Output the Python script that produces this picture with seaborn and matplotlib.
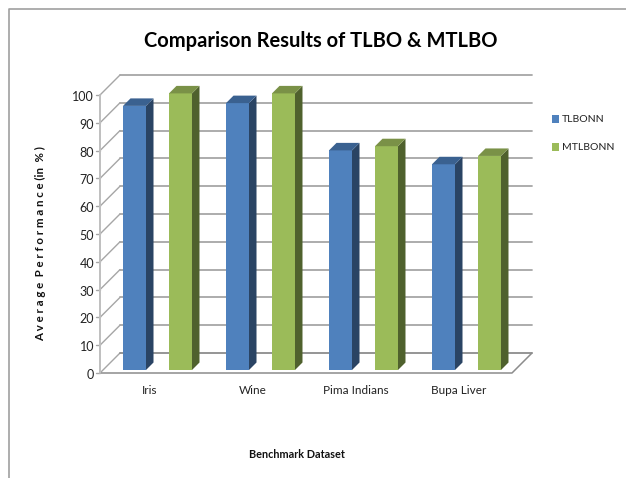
import matplotlib
matplotlib.use("Agg")
import matplotlib.pyplot as plt
from matplotlib.patches import Polygon, Rectangle
from matplotlib.transforms import Affine2D
import pandas as pd
import seaborn as sns

datasets = ["Iris", "Wine", "Pima Indians", "Bupa Liver"]
tlbonn = [95, 96, 79, 74]
mtlbonn = [99.5, 99.5, 80.5, 77]
y_ticks = list(range(0, 101, 10))

W, H = 626, 478
FRONT = (100, 512)
Y0, Y100 = 373, 95
WALL = 20          # wall depth, px
BAR_DEPTH = 7.5    # bar depth, px
BAR_SHIFT = (6, 3) # bar front face sits slightly inside the floor, px

sns.set_theme(style="white")
plt.rcParams["font.family"] = ["Lato", "DejaVu Sans"]

df = pd.DataFrame({
    "dataset": datasets * 2,
    "value": tlbonn + mtlbonn,
    "series": ["TLBONN"] * 4 + ["MTLBONN"] * 4,
})

fig = plt.figure(figsize=(W / 100, H / 100), dpi=100, facecolor="white")
ax = fig.add_axes([FRONT[0] / W, 1 - Y0 / H, (FRONT[1] - FRONT[0]) / W, (Y0 - Y100) / H])

colors = {"TLBONN": "#4F81BD", "MTLBONN": "#9BBB59"}
sides = {"TLBONN": "#2A4464", "MTLBONN": "#4F612D"}
tops = {"TLBONN": "#3A6190", "MTLBONN": "#7A9147"}

sns.barplot(data=df, x="dataset", y="value", hue="series", order=datasets,
            hue_order=["TLBONN", "MTLBONN"], palette=colors, width=0.893, gap=0.5,
            saturation=1, legend=False, ax=ax, zorder=4)
ax.set_xlim(-0.5, 3.5)
ax.set_ylim(0, 100)
for s in ax.spines.values():
    s.set_visible(False)

# Pixel-space transform, with y measured downwards from the top of the figure
px = Affine2D().scale(1, -1).translate(0, H)
def ypx(v):
    return Y0 - (Y0 - Y100) * v / 100

def fig_text(x, y, s, **kw):
    return fig.text(x / W, 1 - y / H, s, **kw)

def line(xs, ys, **kw):
    fig.add_artist(plt.Line2D(xs, ys, transform=px, **kw))

GRID = "#A6A6A6"
AXIS = "#8C8C8C"
lx, rx = FRONT
for v in y_ticks:
    y = ypx(v)
    if v > 0:
        line([lx + WALL, rx + WALL], [y - WALL, y - WALL], color=GRID, lw=1.3, zorder=1)
    line([lx, lx + WALL], [y, y - WALL], color=GRID, lw=1.0, zorder=1)
    line([lx - 4, lx], [y, y], color=GRID, lw=1.0, zorder=1)
    fig_text(lx - 6, y + 2, str(v), ha="right", va="center", fontsize=9, color="#222222")

# Floor and vertical axis
line([lx, rx, rx + WALL], [Y0, Y0, Y0 - WALL], color=AXIS, lw=1.1)
line([lx + WALL, rx + WALL], [Y0 - WALL, Y0 - WALL], color=AXIS, lw=1.3)
line([lx, lx], [Y0, Y100], color="#BFBFBF", lw=1.4)

# Extrude every bar into a box: side and top faces follow the front face
ax.patch.set_alpha(0)
names = ["TLBONN"] * 4 + ["MTLBONN"] * 4
for patch, name in zip(list(ax.patches), names):
    x0, y0 = ax.transData.transform((patch.get_x(), 0))
    x1, y1 = ax.transData.transform((patch.get_x() + patch.get_width(), patch.get_height()))
    x0 += BAR_SHIFT[0]; x1 += BAR_SHIFT[0]
    y0 += BAR_SHIFT[1]; y1 += BAR_SHIFT[1]
    d = BAR_DEPTH
    patch.set_visible(False)
    fig.add_artist(Rectangle((x0, y0), x1 - x0, y1 - y0, transform=None, fc=colors[name], ec="none", zorder=4))
    fig.add_artist(Polygon([(x1, y0), (x1 + d, y0 + d), (x1 + d, y1 + d), (x1, y1)], transform=None,
                           fc=sides[name], ec="none", zorder=4))
    fig.add_artist(Polygon([(x0, y1), (x1, y1), (x1 + d, y1 + d), (x0 + d, y1 + d)], transform=None,
                           fc=tops[name], ec="none", zorder=4))

ax.set_yticks([])
ax.set_xlabel("")
ax.set_ylabel("")
ax.tick_params(axis="x", length=0, pad=9, labelsize=8.5, labelcolor="#222222")
ax.set_xticks(range(4), datasets)
for lab in ax.get_xticklabels():
    lab.set_transform(lab.get_transform() + Affine2D().translate(-2, 0))

fig_text(321, 41, "Comparison Results of TLBO & MTLBO", ha="center", va="center",
         fontsize=14.5, fontweight="bold", color="black")
fig_text(297, 455, "Benchmark Dataset", ha="center", va="center",
         fontsize=7.8, fontweight="bold", color="#111111")
fig_text(41, 244, "A v e r a g e  P e r f o r m a n c e (in  % )", rotation=90, ha="center", va="center",
         fontsize=8.3, fontweight="bold", color="#111111")

# Legend keys and labels
for y, name in zip([119, 147], ["TLBONN", "MTLBONN"]):
    fig.add_artist(Rectangle((552, H - y - 4), 7, 8, transform=None, fc=colors[name], ec="none"))
    fig_text(562, y, name, ha="left", va="center", fontsize=7.5, color="#222222")

# Outer chart frame
line([9, 9, W], [H, 9, 9], color="#A0A0A0", lw=1.2)

fig.savefig("out.png", dpi=100)
